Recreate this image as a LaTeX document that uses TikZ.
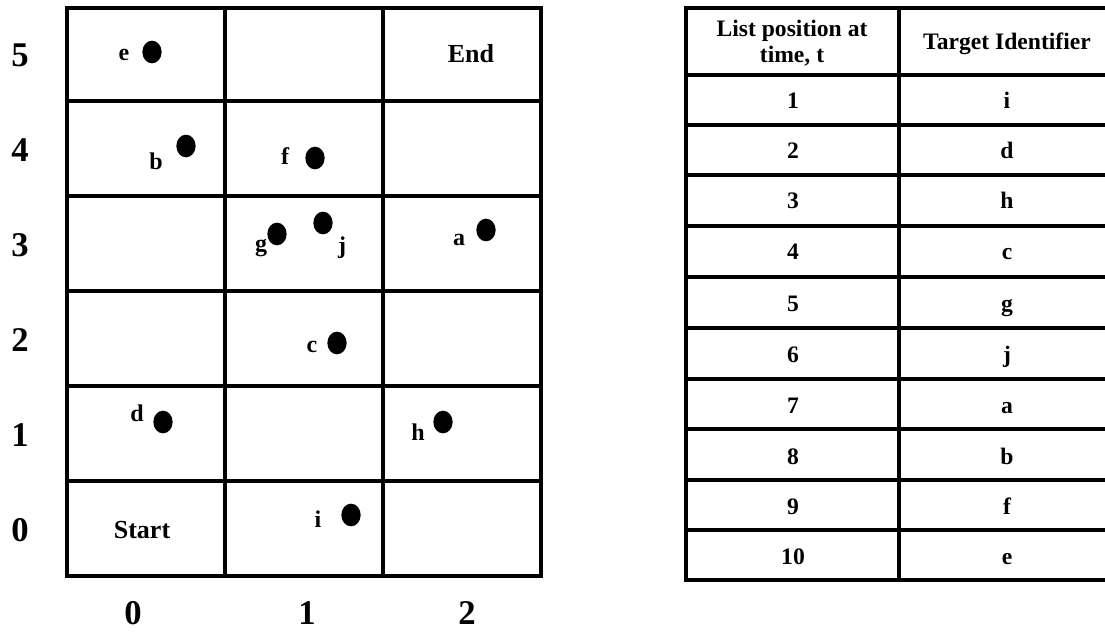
\documentclass[tikz,border=0pt]{standalone}
\usepackage{fontspec}
\setmainfont{Liberation Serif}
\usetikzlibrary{shapes.geometric}
\begin{document}
\begin{tikzpicture}[x=0.75pt,y=-0.75pt,
  rule/.style={line width=2.6pt, line cap=rect},
  axislabel/.style={font=\fontsize{26}{30}\selectfont\bfseries},
  celltext/.style={font=\fontsize{19.5}{23}\selectfont\bfseries},
  ptlabel/.style={font=\fontsize{18}{21}\selectfont\bfseries, inner sep=0pt},
  tabtext/.style={font=\fontsize{17.7}{20}\selectfont\bfseries, align=center},
  entry/.style={tabtext, anchor=base},
  target/.style={ellipse, fill=black, inner sep=0pt, minimum width=14.5pt, minimum height=17pt}]
\useasboundingbox (0,0) rectangle (1105,634);

% ---- grid of cells ----
\coordinate (g00) at (67,8);
\coordinate (g11) at (541,576);
\draw[rule] (g00) rectangle (g11);
\foreach \x in {225,383} \draw[rule] (\x,8) -- (\x,576);
\foreach \y in {101,196,291,386,481} \draw[rule] (67,\y) -- (541,\y);

% row and column indices
\foreach \r/\y in {5/55,4/150,3/245,2/340,1/435,0/530}
  \node[axislabel] (row\r) at (20,\y) {\r};
\foreach \c/\x in {0/133,1/307,2/467}
  \node[axislabel] (col\c) at (\x,613) {\c};

\node[celltext] (endcell) at (471,54) {End};
\node[celltext] (startcell) at (142,530) {Start};

% ---- targets ----
\node[target] (e) at (152,52) {};
\node[target] (b) at (186,146) {};
\node[target] (f) at (315,158) {};
\node[target] (g) at (277,234) {};
\node[target] (j) at (323,223) {};
\node[target] (a) at (486,230) {};
\node[target] (c) at (337,343) {};
\node[target] (d) at (163,422) {};
\node[target] (h) at (443,422) {};
\node[target] (i) at (351,515) {};

\node[ptlabel] (le) at (124,55) {e};
\node[ptlabel] (lb) at (156,161) {b};
\node[ptlabel] (lf) at (285,156) {f};
\node[ptlabel] (lg) at (261,248) {g};
\node[ptlabel] (lj) at (342,248) {j};
\node[ptlabel] (la) at (459,240) {a};
\node[ptlabel] (lc) at (312,347) {c};
\node[ptlabel] (ld) at (137,413) {d};
\node[ptlabel] (lh) at (418,432) {h};
\node[ptlabel] (li) at (318,519) {i};

% ---- list table ----
\draw[rule] (1105,8) -- (686,8) -- (686,580) -- (1105,580);
\draw[rule] (899,8) -- (899,580);
\foreach \y in {75,125,175,226,277,328,379,429,480,530}
  \draw[rule] (686,\y) -- (1105,\y);

\node[tabtext] (hdrA) at (792,43) {List position at\\time, t};
\node[tabtext] (hdrB) at (1007,44) {Target Identifier};

\foreach \n/\t/\y in {1/i/100,2/d/150,3/h/200,4/c/251,5/g/302,6/j/353,7/a/404,8/b/455,9/f/505,10/e/555}{
  \node[entry] (pos\n) at (793,\y+9) {\n};
  \node[entry] (id\n) at (1007,\y+9) {\t};
}
\end{tikzpicture}
\end{document}
